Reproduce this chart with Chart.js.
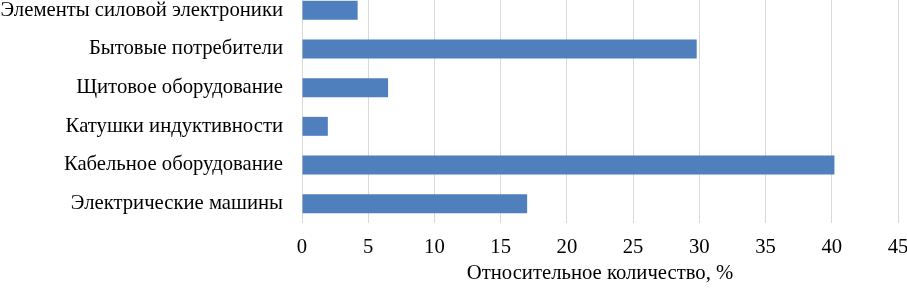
<!DOCTYPE html>
<html>
<head>
<meta charset="utf-8">
<script src="https://cdn.jsdelivr.net/npm/chart.js@4/dist/chart.umd.min.js"></script>
<style>
  html, body { margin: 0; padding: 0; background: #fff; overflow: hidden; }
  #wrap { position: absolute; left: 0; top: -9px; width: 907px; height: 297px; }
</style>
</head>
<body>
<div id="wrap"><canvas id="myChart"></canvas></div>
<script>
// categories top to bottom
var categories = [
    "Элементы силовой электроники",
    "Бытовые потребители",
    "Щитовое оборудование",
    "Катушки индуктивности",
    "Кабельное оборудование",
    "Электрические машины"
];
var values = [4.2, 29.8, 6.5, 1.95, 40.2, 17.0];
var xTicks = [0, 5, 10, 15, 20, 25, 30, 35, 40, 45];
var xTitle = "Относительное количество, %";

var font = "'Liberation Serif', 'Times New Roman', serif";
var fontSize = 20.7;

var ctx = document.getElementById('myChart').getContext('2d');
var chart = new Chart(ctx, {
    type: 'bar',
    data: {
        labels: categories,
        datasets: [{
            data: values,
            backgroundColor: '#4f7fbd',
            barPercentage: 0.98,
            categoryPercentage: 0.5
        }]
    },
    options: {
        indexAxis: 'y',
        responsive: true,
        maintainAspectRatio: false,
        animation: false,
        layout: { padding: { left: 0, right: 9, top: 0, bottom: 2 } },
        plugins: {
            legend: { display: false },
            tooltip: { enabled: false }
        },
        scales: {
            x: {
                min: 0,
                max: 45,
                afterBuildTicks: function (scale) {
                    scale.ticks = xTicks.map(function (v) { return { value: v }; });
                },
                afterFit: function (scale) {
                    scale.height = 63;
                    scale.paddingLeft = 0;
                    scale.paddingRight = 0;
                },
                grid: { color: '#d9d9d9', lineWidth: 1, drawTicks: false },
                border: { display: false },
                ticks: {
                    color: '#000',
                    padding: 12,
                    font: { family: font, size: fontSize }
                },
                title: {
                    display: true,
                    text: xTitle,
                    color: '#000',
                    padding: { top: 0, bottom: 0 },
                    font: { family: font, size: fontSize }
                }
            },
            y: {
                afterFit: function (scale) {
                    scale.width = 302;
                    scale.paddingTop = 0;
                    scale.paddingBottom = 0;
                },
                grid: { display: false, drawTicks: false },
                border: { display: false },
                ticks: {
                    color: '#000',
                    padding: 19,
                    font: { family: font, size: fontSize }
                }
            }
        }
    }
});
</script>
</body>
</html>
